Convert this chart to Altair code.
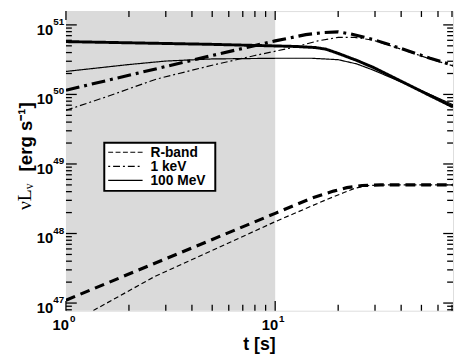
import altair as alt
import pandas as pd

# ---------------- data ----------------
t_100mev_thick = [1, 5, 12.4, 15.5, 17.5, 20, 24.5, 29.4, 40, 55, 70.8]
L_100mev_thick = [5.75e50, 5.25e50, 4.9e50, 4.73e50, 4.47e50, 3.89e50, 3.09e50, 2.45e50, 1.55e50, 9.6e49, 6.6e49]

t_100mev_thin = [1, 2, 3, 5, 10, 15, 20, 24.5, 29.4, 40, 55, 70.8]
L_100mev_thin = [2.14e50, 2.69e50, 3.02e50, 3.24e50, 3.31e50, 3.31e50, 3.16e50, 2.75e50, 2.24e50, 1.51e50, 1.0e50, 7.1e49]

t_1kev_thick = [1, 5, 10, 14, 17, 20, 23, 29.4, 40, 55, 70.8]
L_1kev_thick = [1.15e50, 3.63e50, 5.89e50, 7.24e50, 7.76e50, 7.94e50, 7.41e50, 6.17e50, 4.57e50, 3.31e50, 2.63e50]

t_1kev_thin = [1, 1.6, 2.7, 5, 8, 12.4, 16, 20, 24, 29.4, 40, 55, 70.8]
L_1kev_thin = [5.9e49, 9.5e49, 1.66e50, 2.63e50, 3.63e50, 4.79e50, 5.89e50, 6.61e50, 6.61e50, 6.03e50, 4.47e50, 3.24e50, 2.57e50]

t_rband_thick = [1, 10, 15, 19, 22, 26, 32, 70.8]
L_rband_thick = [1.1e47, 1.95e48, 3.24e48, 4.07e48, 4.57e48, 4.9e48, 5.0e48, 5.0e48]

t_rband_thin = [1, 1.35, 2.65, 4.2, 10, 17.7, 21.2, 24, 28, 35, 70.8]
L_rband_thin = [4.7e46, 7.8e46, 2.4e47, 4.5e47, 1.48e48, 3.1e48, 3.85e48, 4.47e48, 4.9e48, 5.0e48, 5.0e48]

bands = ["R-band", "1 keV", "100 MeV"]
series_names = ["R-band thick", "R-band thin", "1 keV thick", "1 keV thin", "100 MeV thick", "100 MeV thin"]

shade_start, shade_end = 1, 10

x_major = [1, 10]
x_major_exp = ["0", "1"]
x_minor = [2, 3, 4, 5, 6, 7, 8, 9, 20, 30, 40, 50, 60, 70]

y_major = [1e47, 1e48, 1e49, 1e50, 1e51]
y_major_exp = ["47", "48", "49", "50", "51"]
y_minor = [8e46, 9e46] + [m * 10.0 ** d for d in (47, 48, 49, 50) for m in range(2, 10)]

x_title = "t [s]"
y_title_unit = "[erg s\u207b\u00b9]"
y_title_sym = "\u03bdL\u1d65"

# ---------------- tables ----------------
series_data = [
    ("R-band thick", t_rband_thick, L_rband_thick),
    ("R-band thin", t_rband_thin, L_rband_thin),
    ("1 keV thick", t_1kev_thick, L_1kev_thick),
    ("1 keV thin", t_1kev_thin, L_1kev_thin),
    ("100 MeV thick", t_100mev_thick, L_100mev_thick),
    ("100 MeV thin", t_100mev_thin, L_100mev_thin),
]
rows = []
for name, ts, ls in series_data:
    for i, (t, l) in enumerate(zip(ts, ls)):
        rows.append({"series": name, "t": t, "L": l, "order": i})
df = pd.DataFrame(rows)

W, H = 394, 305
FONT = "Liberation Sans"
SERIF = "Liberation Serif"

xscale = alt.Scale(type="log", domain=[1, 70.8], nice=False)
yscale = alt.Scale(type="log", domain=[7.76e46, 1.58e51], nice=False)

dash_range = [[10, 6], [5, 3], [14, 5, 3, 5], [7, 3, 2, 3], [1, 0], [1, 0]]
width_range = [3.2, 1.2, 3.2, 1.2, 3.0, 1.2]

shade = alt.Chart(pd.DataFrame({"t0": [shade_start], "t1": [shade_end]})).mark_rect(
    color="#dadada"
).encode(
    x=alt.X("t0:Q", scale=xscale, axis=None),
    x2="t1:Q",
)

lines = alt.Chart(df).mark_line(color="black", clip=True).encode(
    x=alt.X("t:Q", scale=xscale, axis=None),
    y=alt.Y("L:Q", scale=yscale, axis=None),
    detail="series:N",
    order="order:Q",
    strokeDash=alt.StrokeDash("series:N", scale=alt.Scale(type="ordinal", domain=series_names, range=dash_range), legend=None),
    strokeWidth=alt.StrokeWidth("series:N", scale=alt.Scale(type="ordinal", domain=series_names, range=width_range), legend=None),
)


def xticks(vals, length, top):
    d = pd.DataFrame({"v": vals})
    return alt.Chart(d).mark_rule(color="black", strokeWidth=1.3).encode(
        x=alt.X("v:Q", scale=xscale, axis=None),
        y=alt.value(0 if top else H),
        y2=alt.value(length if top else H - length),
    )


def yticks(vals, length, right):
    d = pd.DataFrame({"v": vals})
    return alt.Chart(d).mark_rule(color="black", strokeWidth=1.3).encode(
        y=alt.Y("v:Q", scale=yscale, axis=None),
        x=alt.value(W if right else 0),
        x2=alt.value(W - length if right else length),
    )


tick_layers = [
    xticks(x_major, 10, False), xticks(x_minor, 6, False),
    xticks(x_major, 9, True), xticks(x_minor, 6, True),
    yticks(y_major, 11, False), yticks(y_minor, 6, False),
    yticks(y_major, 10, True), yticks(y_minor, 6, True),
]

ylab = pd.DataFrame({"v": y_major, "exp": y_major_exp, "base": ["10"] * len(y_major)})
ylab_base = alt.Chart(ylab).mark_text(
    align="right", baseline="alphabetic", font=FONT, fontWeight="bold", fontSize=15, dy=10, color="black"
).encode(y=alt.Y("v:Q", scale=yscale, axis=None), x=alt.value(-13), text="base:N")
ylab_exp = alt.Chart(ylab).mark_text(
    align="left", baseline="alphabetic", font=FONT, fontWeight="bold", fontSize=10, dy=0, color="black"
).encode(y=alt.Y("v:Q", scale=yscale, axis=None), x=alt.value(-13), text="exp:N")

xlab = pd.DataFrame({"v": x_major, "exp": x_major_exp, "base": ["10"] * len(x_major)})
xlab_base = alt.Chart(xlab).mark_text(
    align="right", baseline="alphabetic", font=FONT, fontWeight="bold", fontSize=15, dx=3, color="black"
).encode(x=alt.X("v:Q", scale=xscale, axis=None), y=alt.value(H + 20), text="base:N")
xlab_exp = alt.Chart(xlab).mark_text(
    align="left", baseline="alphabetic", font=FONT, fontWeight="bold", fontSize=10, dx=4, color="black"
).encode(x=alt.X("v:Q", scale=xscale, axis=None), y=alt.value(H + 11), text="exp:N")

one = pd.DataFrame({"k": [0]})

# axis titles
xt = alt.Chart(pd.DataFrame({"txt": [x_title]})).mark_text(
    align="center", baseline="alphabetic", font=FONT, fontWeight="bold", fontSize=18, color="black"
).encode(x=alt.value(W / 2), y=alt.value(H + 40), text="txt:N")
yt_unit = alt.Chart(pd.DataFrame({"txt": [y_title_unit]})).mark_text(
    align="center", baseline="middle", font=FONT, fontWeight="bold", fontSize=19, color="black", angle=270
).encode(x=alt.value(-41), y=alt.value(128), text="txt:N")
yt_sym = alt.Chart(pd.DataFrame({"txt": [y_title_sym]})).mark_text(
    align="center", baseline="middle", font=SERIF, fontSize=20, color="black", angle=270
).encode(x=alt.value(-42), y=alt.value(189), text="txt:N")

# legend (drawn as a framed box)
leg_box = alt.Chart(one).mark_rect(fill="white", stroke="black", strokeWidth=2).encode(
    x=alt.value(39), x2=alt.value(152), y=alt.value(134), y2=alt.value(183)
)
legend_dash = [[5, 2.5], [2, 3, 7, 3], [1, 0]]
legend_layers = []
for i, band in enumerate(bands):
    yy = 143.7 + 14.3 * i
    legend_layers.append(
        alt.Chart(pd.DataFrame({"band": [band]})).mark_rule(
            color="black", strokeWidth=1.2, strokeDash=legend_dash[i]
        ).encode(x=alt.value(43), x2=alt.value(78), y=alt.value(yy))
    )
    legend_layers.append(
        alt.Chart(pd.DataFrame({"band": [band]})).mark_text(
            align="left", baseline="alphabetic", font=FONT, fontWeight="bold", fontSize=14, color="black"
        ).encode(x=alt.value(86), y=alt.value(yy + 5), text="band:N")
    )

chart = alt.layer(
    shade, lines, *tick_layers, leg_box, *legend_layers,
    ylab_base, ylab_exp, xlab_base, xlab_exp, xt, yt_unit, yt_sym
).properties(
    width=W, height=H,
    autosize=alt.AutoSizeParams(type="none"),
    padding={"left": 59, "top": 0, "right": 2, "bottom": 45},
).configure_view(
    stroke="black", strokeWidth=2
).configure(background="white")

chart.save("out.html", embed_options={"renderer": "svg", "actions": False})
